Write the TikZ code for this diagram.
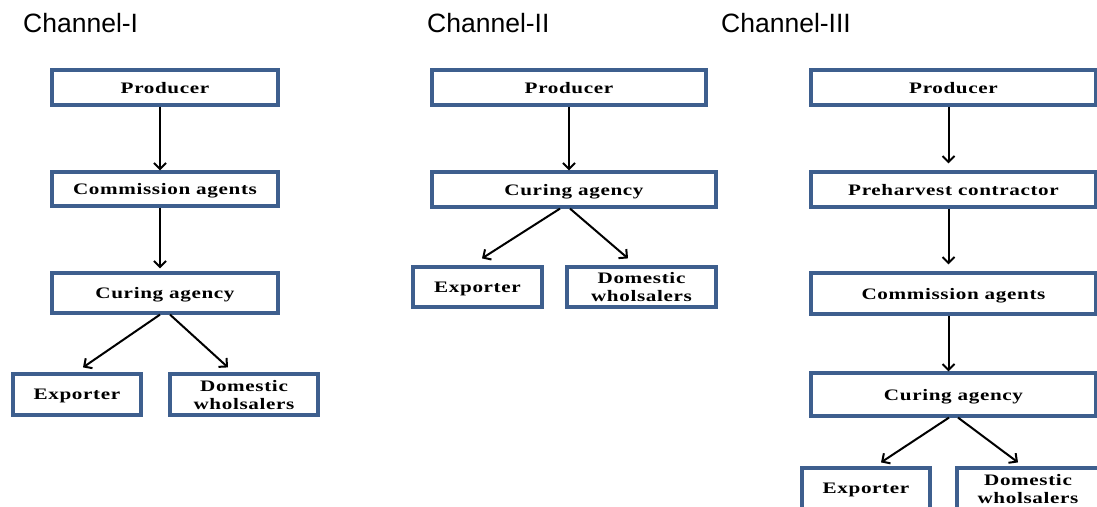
\documentclass[tikz,border=0pt]{standalone}
\usepackage{fontspec}
\usetikzlibrary{arrows.meta}
\newfontfamily\titlefont{Liberation Sans}
\newfontfamily\boxfont[FakeStretch=1.32,LetterSpace=4]{Liberation Serif}
\definecolor{boxblue}{HTML}{3E5F8E}
\begin{document}
\begin{tikzpicture}[x=1pt,y=-1pt,
  box/.style={draw=boxblue, line width=3.2pt, fill=white, inner sep=0pt, align=center,
    font=\boxfont\bfseries\fontsize{16}{18}\selectfont, text depth=0pt},
  ttl/.style={font=\titlefont\fontsize{26.5}{30}\selectfont, anchor=west, inner sep=0pt},
  arr/.style={-{Straight Barb[length=6pt,width=12pt]}, line width=2pt}]
\useasboundingbox (0,0) rectangle (1097,506);
\clip (0,0) rectangle (1097,506);

% titles
\node[ttl] (t1) at (23,23) {Channel-I};
\node[ttl] (t2) at (427,23) {Channel-II};
\node[ttl] (t3) at (721,23) {Channel-III};

% Channel I
\node[box, minimum width=226pt, minimum height=35pt] (p1) at (165,87.5) {Producer};
\node[box, minimum width=226pt, minimum height=34pt] (c1) at (165,189) {Commission agents};
\node[box, minimum width=226pt, minimum height=40pt] (g1) at (165,293) {Curing agency};
\node[box, minimum width=128pt, minimum height=41pt] (e1) at (77,394.5) {Exporter};
\node[box, minimum width=148pt, minimum height=41pt] (d1) at (244,394.5) {Domestic\\wholsalers};
\draw[arr] ([xshift=-5pt]p1.south) -- ([xshift=-5pt]c1.north);
\draw[arr] ([xshift=-5pt]c1.south) -- ([xshift=-5pt,yshift=3pt]g1.north);
\draw[arr] ([xshift=-5pt]g1.south) -- ([xshift=6pt,yshift=5pt]e1.north);
\draw[arr] ([xshift=5pt]g1.south) -- ([xshift=-16pt,yshift=5pt]d1.north);

% Channel II
\node[box, minimum width=274pt, minimum height=35pt] (p2) at (569,87.5) {Producer};
\node[box, minimum width=284pt, minimum height=35pt] (g2) at (574,189.5) {Curing agency};
\node[box, minimum width=129pt, minimum height=40pt] (e2) at (477.5,287) {Exporter};
\node[box, minimum width=149pt, minimum height=40pt] (d2) at (641.5,287) {Domestic\\wholsalers};
\draw[arr] (p2.south) -- (p2.south |- g2.north);
\draw[arr] ([xshift=-14pt]g2.south) -- ([xshift=4.5pt,yshift=7pt]e2.north);
\draw[arr] ([xshift=-4pt]g2.south) -- ([xshift=-13.5pt,yshift=7pt]d2.north);

% Channel III
\node[box, minimum width=285pt, minimum height=35pt] (p3) at (953.5,87.5) {Producer};
\node[box, minimum width=285pt, minimum height=35pt] (h3) at (953.5,189.5) {Preharvest contractor};
\node[box, minimum width=285pt, minimum height=41pt] (c3) at (953.5,293.5) {Commission agents};
\node[box, minimum width=285pt, minimum height=43pt] (g3) at (953.5,394.5) {Curing agency};
\node[box, minimum width=128pt, minimum height=41pt] (e3) at (866,488.5) {Exporter};
\node[box, minimum width=142pt, minimum height=41pt] (d3) at (1028,488.5) {Domestic\\wholsalers};
\draw[arr] ([xshift=-5pt]p3.south) -- ([xshift=-5pt,yshift=7pt]h3.north);
\draw[arr] ([xshift=-5pt]h3.south) -- ([xshift=-5pt,yshift=7pt]c3.north);
\draw[arr] ([xshift=-5pt]c3.south) -- ([xshift=-5pt]g3.north);
\draw[arr] ([xshift=-4.5pt]g3.south) -- ([xshift=15pt,yshift=4pt]e3.north);
\draw[arr] ([xshift=4.5pt]g3.south) -- ([xshift=-10pt,yshift=4pt]d3.north);
\end{tikzpicture}
\end{document}
